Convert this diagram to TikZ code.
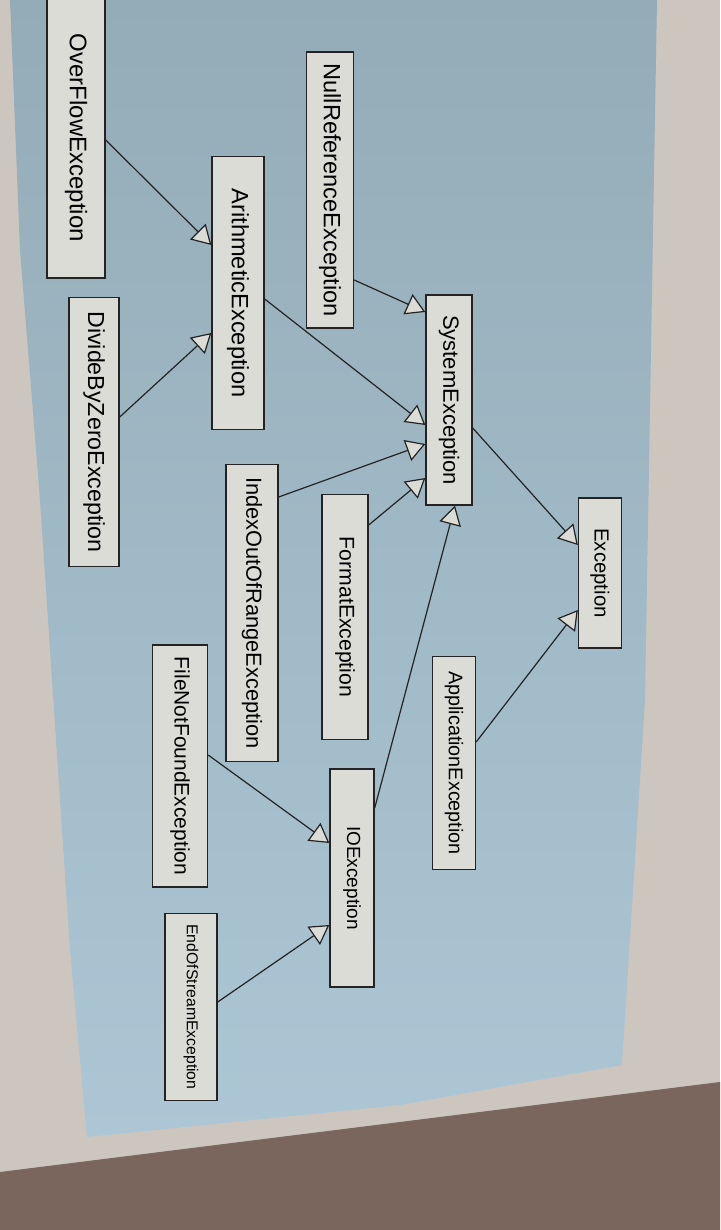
\documentclass[tikz,border=0pt]{standalone}
\usepackage{fontspec}
\setmainfont{Liberation Sans}
\usepackage{graphicx}
\usetikzlibrary{arrows.meta,calc}

\definecolor{bgbluetop}{RGB}{148,172,183}
\definecolor{bgbluebot}{RGB}{172,198,213}
\definecolor{boxgrey}{RGB}{220,220,215}
\definecolor{pagebeige}{RGB}{205,198,190}
\definecolor{tablebrown}{RGB}{122,102,92}
\definecolor{lineg}{RGB}{35,35,35}

\tikzset{
  cls/.style={draw=lineg, fill=boxgrey, line width=0.7pt, inner sep=0pt},
  inh/.style={draw=lineg, line width=0.6pt, -{Triangle[length=9.5pt,width=11pt,fill=boxgrey]}}
}
\newcommand{\clsname}[2]{\rotatebox{-90}{\fontsize{#1}{#1}\selectfont #2}}

\begin{document}
\begin{tikzpicture}[x=0.5pt,y=0.5pt,yscale=-1,xscale=1]
\useasboundingbox (0,0) rectangle (720,1230);

%Background page and table
\fill [pagebeige] (0,0) rectangle (720,1230);
\fill [tablebrown] (0,1172) -- (720,1082) -- (720,1230) -- (0,1230) -- cycle;
\shade [top color=bgbluetop, bottom color=bgbluebot] (10,0) -- (657,0) -- (645,700) -- (622,1065) -- (400,1105) -- (87,1137) -- (70,950) -- (40,500) -- (20,250) -- cycle;

% Text Node
\draw (76,138) node [cls, minimum width=29pt, minimum height=140pt] (ovf) {\clsname{12}{OverFlowException}};
% Text Node
\draw (330,190) node [cls, minimum width=23.5pt, minimum height=138pt] (nre) {\clsname{11.8}{NullReferenceException}};
% Text Node
\draw (238,293) node [cls, minimum width=26pt, minimum height=136.5pt] (ari) {\clsname{11.8}{ArithmeticException}};
% Text Node
\draw (94,432) node [cls, minimum width=25pt, minimum height=134.5pt] (dbz) {\clsname{11.6}{DivideByZeroException}};
% Text Node
\draw (449,400) node [cls, minimum width=23pt, minimum height=105pt] (sys) {\clsname{11}{SystemException}};
% Text Node
\draw (252,613) node [cls, minimum width=26pt, minimum height=148.5pt] (ior) {\clsname{10.9}{IndexOutOfRangeException}};
% Text Node
\draw (345,617) node [cls, minimum width=23pt, minimum height=122.5pt] (fmt) {\clsname{10.6}{FormatException}};
% Text Node
\draw (600,573) node [cls, minimum width=21.5pt, minimum height=75pt] (exc) {\clsname{10.2}{Exception}};
% Text Node
\draw (454,763) node [cls, minimum width=21.5pt, minimum height=106.5pt] (app) {\clsname{9.9}{ApplicationException}};
% Text Node
\draw (180,766) node [cls, minimum width=27.5pt, minimum height=121pt] (fnf) {\clsname{10.5}{FileNotFoundException}};
% Text Node
\draw (352,878) node [cls, minimum width=22pt, minimum height=109pt] (ioe) {\clsname{9.5}{IOException}};
% Text Node
\draw (191,1007) node [cls, minimum width=26pt, minimum height=93.5pt] (eos) {\clsname{7.9}{EndOfStreamException}};

%Straight Lines
\draw [inh] ($(ovf.east)+(0,2)$) -- ($(ari.west)+(0,-48)$);
%Straight Lines
\draw [inh] ($(dbz.east)+(0,-15)$) -- ($(ari.west)+(0,40)$);
%Straight Lines
\draw [inh] ($(nre.east)+(0,90)$) -- ($(sys.west)+(0,-88)$);
%Straight Lines
\draw [inh] ($(ari.east)+(0,6)$) -- ($(sys.west)+(0,25)$);
%Straight Lines
\draw [inh] ($(ior.east)+(0,-116)$) -- ($(sys.west)+(0,44)$);
%Straight Lines
\draw [inh] ($(fmt.east)+(0,-92)$) -- ($(sys.west)+(0,78)$);
%Straight Lines
\draw [inh] ($(ioe.east)+(0,-70)$) -- ($(sys.south)+(6,0)$);
%Straight Lines
\draw [inh] ($(sys.east)+(0,28)$) -- ($(exc.west)+(0,-28)$);
%Straight Lines
\draw [inh] ($(app.east)+(0,-21)$) -- ($(exc.west)+(0,37)$);
%Straight Lines
\draw [inh] ($(fnf.east)+(0,-11)$) -- ($(ioe.west)+(0,-35)$);
%Straight Lines
\draw [inh] ($(eos.east)+(0,-5)$) -- ($(ioe.west)+(0,47)$);

\end{tikzpicture}
\end{document}
